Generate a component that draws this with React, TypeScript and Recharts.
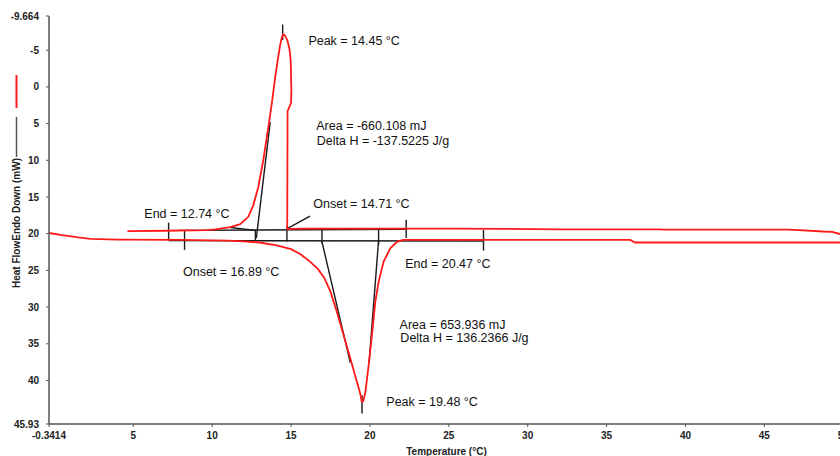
import React from 'react';
import { ComposedChart, Line, XAxis, YAxis, ReferenceDot } from 'recharts';

// Heating run (T increasing), endothermic peak pointing down
const heatingT = [-0.34, 0.5, 1.5, 2.3, 4, 8, 11, 12, 13, 14.1, 15, 15.6, 16.2, 16.7, 17.1, 17.5, 17.9, 18.33, 18.76, 19.18, 19.39, 19.48, 19.58, 19.71, 19.92, 20.13, 20.34, 20.55, 20.87, 21.29, 21.72, 22.12, 30, 36.5, 36.8, 50.05];
const heatingHF = [19.9, 20.2, 20.5, 20.7, 20.8, 20.85, 20.95, 21.05, 21.2, 21.6, 22.1, 22.8, 23.8, 24.8, 26.0, 27.9, 30.6, 33.8, 37.0, 40.2, 41.8, 42.9, 42.8, 41.6, 37.9, 33.8, 29.3, 26.6, 23.8, 22.0, 21.1, 20.85, 20.85, 20.85, 21.2, 21.2];

// Cooling run (T decreasing), exothermic peak pointing up, with recalescence
const coolingT = [50.05, 49.8, 49.3, 48.7, 47.2, 46.5, 38.6, 38.4, 32, 25, 20, 16, 15.0, 14.76, 14.78, 15.0, 15.02, 14.98, 14.9, 14.76, 14.6, 14.5, 14.42, 14.3, 14.19, 14.0, 13.81, 13.56, 13.24, 12.93, 12.61, 12.29, 11.78, 11.15, 10.2, 9.7, 7, 4.63];
const coolingHF = [20.15, 20.05, 19.75, 19.7, 19.5, 19.45, 19.45, 19.4, 19.4, 19.3, 19.3, 19.3, 19.35, 19.4, 3.3, 2.2, 0.3, -3.6, -5.2, -6.4, -7.05, -7.15, -6.8, -5.6, -4.1, -1.4, 1.8, 5.5, 10.0, 13.6, 16.1, 17.7, 18.7, 19.1, 19.4, 19.5, 19.6, 19.65];

const xTicks = [-0.3414, 5, 10, 15, 20, 25, 30, 35, 40, 45, 50];
const yTicks = [-9.664, -5, 0, 5, 10, 15, 20, 25, 30, 35, 40, 45.93];

// Analysis lines (baselines, tangents, limit markers): x1, y1, x2, y2
const analysisSegments: number[][] = [
  [7.8, 19.55, 22.3, 19.4],
  [7.24, 20.95, 27.2, 21.0],
  [7.24, 18.5, 7.24, 20.9],
  [8.25, 19.6, 8.25, 22.2],
  [12.74, 19.5, 12.74, 21.0],
  [14.74, 18.9, 14.74, 21.1],
  [16.96, 19.5, 16.96, 21.3],
  [20.55, 19.5, 20.55, 21.5],
  [22.3, 18.1, 22.3, 20.6],
  [27.2, 19.5, 27.2, 22.3],
  [14.47, -8.5, 14.47, -6.4],
  [19.5, 42.0, 19.5, 44.5],
  [12.8, 20.6, 13.68, 4.8],
  [11.15, 19.15, 12.74, 19.55],
  [14.76, 19.3, 16.2, 17.6],
  [16.96, 21.1, 18.76, 37.6],
  [20.55, 20.9, 19.95, 37.5],
];

const annotationText = [
  'Peak = 14.45 °C',
  'Area = -660.108 mJ',
  'Delta H = -137.5225 J/g',
  'Onset = 14.71 °C',
  'End = 12.74 °C',
  'Onset = 16.89 °C',
  'End = 20.47 °C',
  'Area = 653.936 mJ',
  'Delta H = 136.2366 J/g',
  'Peak = 19.48 °C',
];
const annotationAnchorT = [16.1, 16.6, 16.63, 16.41, 5.7, 8.15, 22.24, 21.88, 21.93, 21.04];
const annotationAnchorHF = [-6.3, 5.32, 7.33, 15.96, 17.23, 25.2, 24.05, 32.33, 34.15, 42.93];

const FONT = "'Liberation Sans', Arial, Helvetica, sans-serif";

const heating = heatingT.map((x, i) => ({ x, y: heatingHF[i] }));
const cooling = coolingT.map((x, i) => ({ x, y: coolingHF[i] }));
const segments = analysisSegments.map(([x1, y1, x2, y2]) => [
  { x: x1, y: y1 },
  { x: x2, y: y2 },
]);

const YLegend = (props: any) => {
  const vb = props.viewBox || { x: 0, y: 16, width: 49, height: 408 };
  const cx = vb.x + 16.5;
  const top = vb.y;
  return (
    <g>
      <line x1={cx} x2={cx} y1={top + 59} y2={top + 92} stroke="#ff1a1a" strokeWidth={2} />
      <line x1={cx} x2={cx} y1={top + 101} y2={top + 141} stroke="#555" strokeWidth={1.5} />
      <text
        x={cx}
        y={top + 207}
        transform={`rotate(-90 ${cx} ${top + 207})`}
        textAnchor="middle"
        dy="0.35em"
        fontFamily={FONT}
        fontSize={10}
        fontWeight="bold"
        fill="#222"
      >
        Heat FlowEndo Down (mW)
      </text>
    </g>
  );
};

export default function App() {
  return (
    <div
      style={{
        position: 'absolute',
        left: 0,
        top: 0,
        width: 840,
        height: 456,
        overflow: 'hidden',
        background: '#fff',
      }}
    >
      <ComposedChart width={850} height={456} margin={{ top: 16, right: 6, bottom: 0, left: 0 }}>
        <XAxis
          type="number"
          dataKey="x"
          domain={[-0.3414, 50.05]}
          allowDataOverflow
          ticks={xTicks}
          interval={0}
          height={32}
          tickSize={3}
          tickMargin={5}
          axisLine={{ stroke: '#555', strokeWidth: 1.5 }}
          tickLine={{ stroke: '#555' }}
          tick={{ fontSize: 10, fontFamily: FONT, fontWeight: 'bold', fill: '#222' }}
          label={{
            value: 'Temperature (°C)',
            position: 'insideBottom',
            offset: 1,
            style: { fontSize: 10, fontFamily: FONT, fontWeight: 'bold', fill: '#222' },
          }}
        />
        <YAxis
          type="number"
          dataKey="y"
          domain={[-9.664, 45.93]}
          reversed
          allowDataOverflow
          ticks={yTicks}
          interval={0}
          width={49}
          tickSize={3}
          tickMargin={7}
          axisLine={{ stroke: '#555', strokeWidth: 1.5 }}
          tickLine={{ stroke: '#555' }}
          tick={{ fontSize: 10, fontFamily: FONT, fontWeight: 'bold', fill: '#222' }}
          label={<YLegend />}
        />
        {segments.map((d, i) => (
          <Line
            key={'s' + i}
            data={d}
            dataKey="y"
            type="linear"
            stroke="#1a1a1a"
            strokeWidth={1.4}
            dot={false}
            activeDot={false}
            isAnimationActive={false}
          />
        ))}
        <Line
          data={heating}
          dataKey="y"
          type="linear"
          stroke="#ff1a1a"
          strokeWidth={1.8}
          dot={false}
          activeDot={false}
          isAnimationActive={false}
        />
        <Line
          data={cooling}
          dataKey="y"
          type="linear"
          stroke="#ff1a1a"
          strokeWidth={1.8}
          dot={false}
          activeDot={false}
          isAnimationActive={false}
        />
        {annotationText.map((t, i) => (
          <ReferenceDot
            key={'t' + i}
            x={annotationAnchorT[i]}
            y={annotationAnchorHF[i]}
            r={0}
            ifOverflow="visible"
            shape={(p: any) => (
              <text
                x={p.cx}
                y={p.cy}
                dy="0.35em"
                textAnchor="start"
                fontFamily={FONT}
                fontSize={12.5}
                fill="#111"
              >
                {t}
              </text>
            )}
          />
        ))}
      </ComposedChart>
    </div>
  );
}
